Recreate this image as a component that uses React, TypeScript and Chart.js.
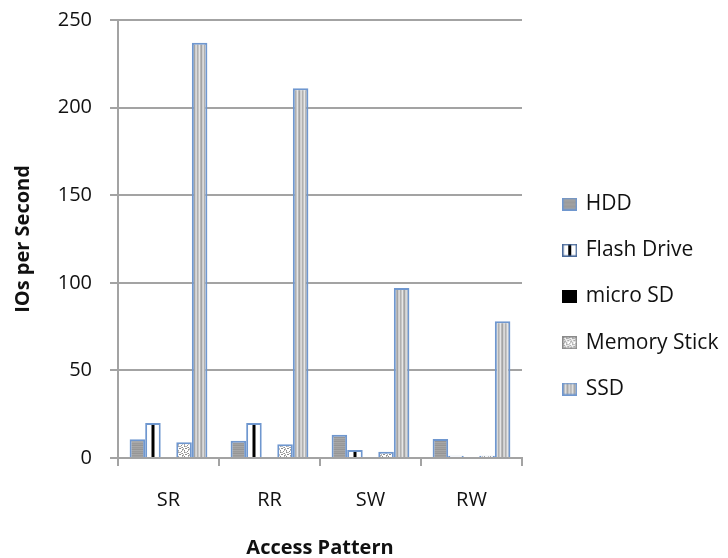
import React, { useEffect, useRef } from "react";
import { Chart, registerables } from "chart.js";

Chart.register(...registerables);

// Access patterns on the x axis
const categories = ["SR", "RR", "SW", "RW"];

// IOs per second for each device
const hdd = [10.7, 9.9, 13.2, 10.9];
const flashDrive = [20, 20, 4.6, 1.3];
const microSD = [0, 0, 0, 0];
const memoryStick = [9, 7.8, 3.6, 1.3];
const ssd = [237, 211, 97, 78];

const seriesNames = ["HDD", "Flash Drive", "micro SD", "Memory Stick", "SSD"];

const yMax = 250;
const yStep = 50;

const BORDER_BLUE = "#6f97cf";
const GRID_GRAY = "#a3a3a3";
const TEXT = "#111111";
const FONT = "'Open Sans', sans-serif";

function makeCanvas(w: number, h: number) {
  const c = document.createElement("canvas");
  c.width = w;
  c.height = h;
  return c;
}

// horizontal streaks for the HDD fill
function hddTile() {
  const shades = ["#a2a2a2", "#959595", "#a8a8a8", "#9a9a9a"];
  const c = makeCanvas(4, shades.length);
  const g = c.getContext("2d")!;
  shades.forEach((s, i) => {
    g.fillStyle = s;
    g.fillRect(0, i, 4, 1);
  });
  return c;
}

// vertical streaks for the SSD fill
function ssdTile() {
  const shades = ["#d9d9d9", "#b0b0b0", "#c6c6c6", "#e6e6e6", "#b8b8b8", "#a4a4a4", "#cfcfcf"];
  const c = makeCanvas(shades.length, 4);
  const g = c.getContext("2d")!;
  shades.forEach((s, i) => {
    g.fillStyle = s;
    g.fillRect(i, 0, 1, 4);
  });
  return c;
}

// speckled fill for the memory stick
function speckleTile() {
  const mask = [
    "..x.#.",
    ".#..x.",
    "x...#x",
    ".x#...",
    "#..x.#",
    "..#x..",
  ];
  const c = makeCanvas(6, 6);
  const g = c.getContext("2d")!;
  g.fillStyle = "#ffffff";
  g.fillRect(0, 0, 6, 6);
  mask.forEach((row, y) => {
    [...row].forEach((ch, x) => {
      if (ch === "x") {
        g.fillStyle = "#b4b4b4";
        g.fillRect(x, y, 1, 1);
      } else if (ch === "#") {
        g.fillStyle = "#8e8e8e";
        g.fillRect(x, y, 1, 1);
      }
    });
  });
  return c;
}

function legendIcon(kind: number, patterns: (CanvasPattern | string)[]) {
  const w = 15;
  const h = 13;
  const c = makeCanvas(w, h);
  const g = c.getContext("2d")!;
  if (kind === 2) {
    g.fillStyle = "#000000";
    g.fillRect(0, 0, w, h);
    return c;
  }
  g.fillStyle = kind === 1 ? "#ffffff" : (patterns[kind] as any);
  g.fillRect(0, 0, w, h);
  if (kind === 1) {
    g.fillStyle = "#000000";
    g.fillRect(6, 1, 3, h - 2);
  }
  g.strokeStyle = kind === 3 ? "#8a8a8a" : kind === 1 ? "#4a6a9a" : BORDER_BLUE;
  g.lineWidth = 1.5;
  g.strokeRect(0.75, 0.75, w - 1.5, h - 1.5);
  return c;
}

export default function App() {
  const canvasRef = useRef<HTMLCanvasElement | null>(null);

  useEffect(() => {
    const canvas = canvasRef.current;
    if (!canvas) return;
    const ctx = canvas.getContext("2d")!;

    const hddFill = ctx.createPattern(hddTile(), "repeat")!;
    const ssdFill = ctx.createPattern(ssdTile(), "repeat")!;
    const speckleFill = ctx.createPattern(speckleTile(), "repeat")!;
    const fills: (CanvasPattern | string)[] = [hddFill, "#ffffff", "#000000", speckleFill, ssdFill];
    const icons = [0, 1, 2, 3, 4].map((k) => legendIcon(k, fills));

    // black centre stripe inside each Flash Drive bar
    const flashStripe = {
      id: "flashStripe",
      afterDatasetsDraw(chart: any) {
        const meta = chart.getDatasetMeta(1);
        const c = chart.ctx;
        c.save();
        c.fillStyle = "#000000";
        meta.data.forEach((el: any) => {
          const { x, y, base } = el.getProps(["x", "y", "base"], true);
          const top = y + 2;
          if (base - top > 1) c.fillRect(Math.round(x) - 1.5, top, 3, base - top);
        });
        c.restore();
      },
    };

    const seriesValues = [hdd, flashDrive, microSD, memoryStick, ssd];

    const chart = new Chart(ctx, {
      type: "bar",
      data: {
        labels: categories,
        datasets: seriesValues.map((values, i) => ({
          label: seriesNames[i],
          data: values,
          backgroundColor: fills[i] as any,
          borderColor: i === 2 ? "#000000" : BORDER_BLUE,
          borderWidth: i === 2 ? 0 : 2,
          categoryPercentage: 0.77,
          barPercentage: 1.0,
        })),
      },
      options: {
        animation: false,
        responsive: false,
        devicePixelRatio: 1,
        layout: { padding: { top: 20, left: 0, right: 0, bottom: 0 } },
        font: { family: FONT },
        scales: {
          x: {
            grid: {
              display: true,
              drawOnChartArea: false,
              drawTicks: true,
              tickLength: 8,
              color: GRID_GRAY,
              lineWidth: 2,
            },
            border: { display: true, color: GRID_GRAY, width: 2 },
            ticks: {
              color: TEXT,
              font: { family: FONT, size: 20 },
              padding: 22,
            },
            title: {
              display: true,
              text: "Access Pattern",
              color: TEXT,
              font: { family: FONT, size: 20, weight: "bold", lineHeight: 1 },
              padding: { top: 0, bottom: 0 },
            },
            afterFit: (s: any) => {
              s.height = 100;
            },
          },
          y: {
            min: 0,
            max: yMax,
            ticks: {
              stepSize: yStep,
              color: TEXT,
              font: { family: FONT, size: 20 },
              padding: 18,
            },
            grid: {
              color: GRID_GRAY,
              lineWidth: 2,
              drawTicks: true,
              tickLength: 8,
            },
            border: { display: true, color: GRID_GRAY, width: 2 },
            title: {
              display: true,
              text: "IOs per Second",
              color: TEXT,
              font: { family: FONT, size: 20, weight: "bold" },
              padding: { top: 11, bottom: 0 },
            },
            afterFit: (s: any) => {
              s.width = 118;
              s.paddingTop = 0;
              s.paddingBottom = 0;
            },
          },
          gap: {
            type: "linear",
            position: "right",
            display: true,
            ticks: { display: false },
            grid: { display: false },
            border: { display: false },
            afterFit: (s: any) => {
              s.width = 17;
            },
          },
        },
        plugins: {
          tooltip: { enabled: false },
          legend: {
            position: "right",
            align: "center",
            maxWidth: 189,
            title: {
              display: true,
              text: "",
              font: { size: 5, lineHeight: 1.2 },
              padding: { top: 4.5, bottom: 4.5 },
            },
            labels: {
              usePointStyle: true,
              pointStyleWidth: 11,
              padding: 25.25,
              color: TEXT,
              font: { family: FONT, size: 21 },
              generateLabels: () =>
                seriesNames.map((name, i) => ({
                  text: name,
                  pointStyle: icons[i] as any,
                  fillStyle: "#ffffff",
                  strokeStyle: "#ffffff",
                  fontColor: TEXT,
                  lineWidth: 0,
                  hidden: false,
                  datasetIndex: i,
                })),
            },
          },
        },
      },
      plugins: [flashStripe],
    });

    return () => chart.destroy();
  }, []);

  return (
    <div style={{ position: "fixed", left: 0, top: 0, width: 728, height: 558, background: "#ffffff" }}>
      <canvas ref={canvasRef} width={728} height={558} style={{ display: "block" }} />
    </div>
  );
}
